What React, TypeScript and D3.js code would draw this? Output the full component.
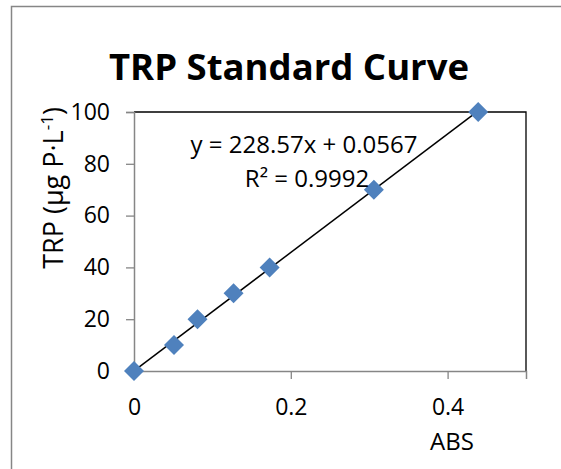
import React, { useRef, useEffect } from "react";
import * as d3 from "d3";

// readings from the standard curve
const absValues = [0, 0.051, 0.081, 0.127, 0.173, 0.306, 0.439];
const trpValues = [0, 10, 20, 30, 40, 70, 100];
const xTicks = [0, 0.2, 0.4];
const yTicks = [0, 20, 40, 60, 80, 100];
const slope = 228.57;
const intercept = 0.0567;

const W = 561;
const H = 469;
const FONT = "'Open Sans', sans-serif";

const App = () => {
  const svgRef = useRef<SVGSVGElement>(null);

  useEffect(() => {
    const svg = d3.select(svgRef.current);
    svg.selectAll("*").remove();

    const plot = { left: 134, right: 526, top: 112, bottom: 371 };

    const x = d3.scaleLinear().domain([0, 0.5]).range([plot.left, plot.right]);
    const y = d3.scaleLinear().domain([0, 100]).range([plot.bottom, plot.top]);

    svg.append("rect").attr("width", W).attr("height", H).attr("fill", "#fff");

    // outer chart border (only top/left show in frame)
    svg.append("rect")
      .attr("x", 11.5).attr("y", 6.5)
      .attr("width", W + 20).attr("height", H + 20)
      .attr("fill", "none").attr("stroke", "#868686").attr("stroke-width", 1.5);

    // plot area frame: black top/right
    svg.append("path")
      .attr("d", `M${plot.left},${plot.top}H${plot.right}V${plot.bottom}`)
      .attr("fill", "none").attr("stroke", "#000").attr("stroke-width", 1.3);

    // axes
    const yAxis = svg.append("g")
      .attr("transform", `translate(${plot.left},0)`)
      .call(d3.axisLeft(y).tickValues(yTicks).tickSize(8).tickPadding(16).tickFormat(d3.format("d")));
    const xAxis = svg.append("g")
      .attr("transform", `translate(0,${plot.bottom})`)
      .call(d3.axisBottom(x).tickValues(xTicks).tickSize(8).tickPadding(20).tickFormat((d) => `${d}`));

    [yAxis, xAxis].forEach((ax) => {
      ax.select(".domain").attr("stroke", "#868686").attr("stroke-width", 1.5);
      ax.selectAll(".tick line").attr("stroke", "#868686").attr("stroke-width", 1.3);
      ax.selectAll(".tick text")
        .attr("fill", "#000")
        .style("font-family", FONT)
        .style("font-size", "23px");
    });

    // trendline
    const xMax = d3.max(absValues) as number;
    svg.append("line")
      .attr("x1", x(0)).attr("y1", y(intercept))
      .attr("x2", x(xMax)).attr("y2", y(slope * xMax + intercept))
      .attr("stroke", "#000").attr("stroke-width", 1.5);

    // markers
    const diamond = d3.symbol().type(d3.symbolSquare).size(200);
    svg.append("g")
      .selectAll("path")
      .data(absValues.map((a, i) => ({ a, t: trpValues[i] })))
      .enter().append("path")
      .attr("d", diamond)
      .attr("transform", (d) => `translate(${x(d.a)},${y(d.t)}) rotate(45)`)
      .attr("fill", "#4f81bd");

    // title
    svg.append("text")
      .attr("x", 289).attr("y", 80)
      .attr("text-anchor", "middle")
      .style("font-family", FONT)
      .style("font-weight", "bold")
      .style("font-size", "36.5px")
      .text("TRP Standard Curve");

    // equation
    svg.append("text")
      .attr("x", 304).attr("y", 153)
      .attr("text-anchor", "middle")
      .style("font-family", FONT)
      .style("font-size", "24px")
      .text(`y = ${slope}x + ${intercept}`);
    svg.append("text")
      .attr("x", 307).attr("y", 187)
      .attr("text-anchor", "middle")
      .style("font-family", FONT)
      .style("font-size", "24px")
      .text("R² = 0.9992");

    // axis titles
    svg.append("text")
      .attr("x", 452).attr("y", 450)
      .attr("text-anchor", "middle")
      .style("font-family", FONT)
      .style("font-size", "24px")
      .text("ABS");

    const yt = svg.append("text")
      .attr("transform", "translate(63,188) rotate(-90)")
      .attr("text-anchor", "middle")
      .style("font-family", FONT)
      .style("font-size", "27px");
    yt.append("tspan").text("TRP (µg P·L");
    yt.append("tspan").attr("dy", -10).style("font-size", "17px").text("-1");
    yt.append("tspan").attr("dy", 10).text(")");
  }, []);

  return (
    <svg
      ref={svgRef}
      width={W}
      height={H}
      style={{ position: "absolute", left: 0, top: 0, display: "block" }}
    />
  );
};

export default App;
